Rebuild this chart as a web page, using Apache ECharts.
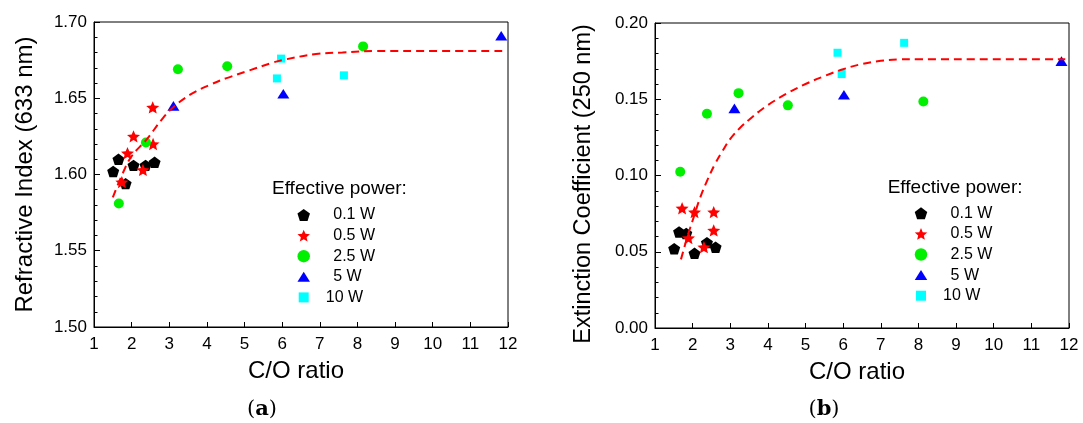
<!DOCTYPE html>
<html>
<head>
<meta charset="utf-8">
<script src="https://cdn.jsdelivr.net/npm/echarts@6/dist/echarts.min.js"></script>
<style>
  html, body { margin: 0; padding: 0; background: #fff; }
  #chart { width: 1083px; height: 423px; }
</style>
</head>
<body>
<div id="chart"></div>
<script>
// Effective power levels (legend entries)
const powerLevels = ['0.1 W', '0.5 W', '2.5 W', '5 W', '10 W'];

// Axis ranges and tick steps
const xRange = [1, 12];
const xStep = 1;
const nRange = [1.50, 1.70];
const nStep = 0.05;
const kRange = [0.00, 0.20];
const kStep = 0.05;

// (a) Refractive index at 633 nm vs C/O ratio  [C/O, n]
const n_01W = [[1.51, 1.602], [1.65, 1.610], [1.84, 1.594], [2.05, 1.606], [2.37, 1.606], [2.61, 1.608]];
const n_05W = [[1.74, 1.595], [1.89, 1.614], [2.05, 1.625], [2.30, 1.603], [2.57, 1.620], [2.56, 1.644]];
const n_25W = [[1.66, 1.581], [2.38, 1.621], [3.23, 1.669], [4.54, 1.671], [8.15, 1.684]];
const n_5W  = [[3.11, 1.645], [6.03, 1.653], [11.82, 1.691]];
const n_10W = [[5.97, 1.676], [5.86, 1.663], [7.64, 1.665]];
// dashed trend curve for (a)
const fitN = [[1.50, 1.585], [1.75, 1.600], [2.00, 1.612], [2.40, 1.623], [2.80, 1.636], [3.10, 1.644],
              [3.60, 1.653], [4.10, 1.659], [4.50, 1.663], [5.10, 1.668], [5.70, 1.673], [6.00, 1.675],
              [6.90, 1.679], [7.60, 1.680], [8.50, 1.681], [10.0, 1.681], [11.9, 1.681]];

// (b) Extinction coefficient at 250 nm vs C/O ratio  [C/O, k]
const k_01W = [[1.51, 0.052], [1.64, 0.063], [1.83, 0.062], [2.05, 0.049], [2.38, 0.056], [2.61, 0.053]];
const k_05W = [[1.72, 0.0785], [2.05, 0.076], [2.56, 0.076], [2.56, 0.064], [1.89, 0.059], [2.30, 0.053]];
const k_25W = [[1.67, 0.1025], [2.38, 0.1405], [3.22, 0.154], [4.53, 0.146], [8.13, 0.1485]];
const k_5W  = [[3.11, 0.144], [6.02, 0.153], [11.80, 0.175]];
const k_10W = [[5.85, 0.1805], [5.96, 0.1665], [7.62, 0.187]];
// dashed trend curve for (b)
const fitK = [[1.69, 0.045], [1.85, 0.059], [2.00, 0.0705], [2.20, 0.0855], [2.40, 0.0975], [2.60, 0.1078],
              [2.80, 0.1163], [3.00, 0.1240], [3.25, 0.1310], [3.50, 0.1366], [3.75, 0.1417], [4.00, 0.1462],
              [4.50, 0.1537], [5.00, 0.1600], [5.50, 0.1652], [6.00, 0.1697], [6.50, 0.1731], [7.00, 0.1752],
              [7.50, 0.1761], [8.00, 0.1763], [10.0, 0.1763], [11.9, 0.1763]];

const FONT = 'Liberation Sans';
const SERIF = 'DejaVu Serif';

const SYM = {
  pentagon: 'path://M0,-100L95.1,-30.9L58.8,80.9L-58.8,80.9L-95.1,-30.9Z',
  star: 'path://M0,-100L26.4,-36.4L95.1,-30.9L42.8,13.9L58.8,80.9L0,45L-58.8,80.9L-42.8,13.9L-95.1,-30.9L-26.4,-36.4Z',
  triangle: 'path://M50,0L100,80L0,80Z',
  squareIcon: 'path://M-1,-1M0,0L8,0L8,8L0,8ZM9,9'
};

const styles = [
  { symbol: SYM.pentagon, size: 12, color: '#000000', icon: SYM.pentagon },
  { symbol: SYM.star, size: 13, color: '#ff0000', icon: SYM.star },
  { symbol: 'circle', size: 10, color: '#00f000', icon: 'circle' },
  { symbol: SYM.triangle, size: 12, color: '#0000ff', icon: SYM.triangle },
  { symbol: 'rect', size: 8, color: '#00ffff', icon: SYM.squareIcon }
];

const nSets = [n_01W, n_05W, n_25W, n_5W, n_10W];
const kSets = [k_01W, k_05W, k_25W, k_5W, k_10W];

function scatterSeries(sets, gi) {
  return sets.map((data, i) => ({
    type: 'scatter',
    name: powerLevels[i],
    xAxisIndex: gi,
    yAxisIndex: gi,
    data: data,
    symbol: styles[i].symbol,
    symbolSize: styles[i].size,
    symbolKeepAspect: true,
    itemStyle: { color: styles[i].color, opacity: 1 },
    emphasis: { disabled: true },
    z: 3
  }));
}

function fitSeries(data, gi) {
  return {
    type: 'line',
    name: 'fit',
    xAxisIndex: gi,
    yAxisIndex: gi,
    data: data,
    smooth: 0.4,
    symbol: 'none',
    lineStyle: { color: '#ff0000', width: 2, type: [8, 5] },
    emphasis: { disabled: true },
    silent: true,
    z: 4
  };
}

const tickStyle = { color: '#000', width: 1 };

function xAxisFor(gi) {
  return {
    gridIndex: gi,
    type: 'value',
    min: xRange[0], max: xRange[1], interval: xStep,
    name: 'C/O ratio',
    nameLocation: 'middle',
    nameGap: 32.5,
    nameTextStyle: { fontFamily: FONT, fontSize: 24, lineHeight: 24, color: '#000', padding: [0, 10, 0, 0] },
    axisLine: { show: true, onZero: false, lineStyle: tickStyle },
    axisTick: { show: true, inside: true, length: 5, lineStyle: tickStyle },
    axisLabel: { fontFamily: FONT, fontSize: 17, color: '#000', margin: 8.5 },
    splitLine: { show: false }
  };
}

function yAxisFor(gi, range, step, name, gap, size, pad) {
  return {
    gridIndex: gi,
    type: 'value',
    min: range[0], max: range[1], interval: step,
    name: name,
    nameLocation: 'middle',
    nameGap: gap,
    nameTextStyle: { fontFamily: FONT, fontSize: size, lineHeight: size, color: '#000', padding: pad },
    axisLine: { show: true, onZero: false, lineStyle: tickStyle },
    axisTick: { show: true, inside: true, length: 6, lineStyle: tickStyle },
    minorTick: { show: true, splitNumber: 5, length: 3.5, lineStyle: tickStyle },
    axisLabel: { fontFamily: FONT, fontSize: 17, color: '#000', margin: 7, formatter: v => v.toFixed(2) },
    splitLine: { show: false }
  };
}

function legendFor(left, top) {
  return {
    orient: 'vertical',
    left: left,
    top: top,
    padding: 0,
    itemWidth: 12.5,
    itemHeight: 12.5,
    itemGap: 4.6,
    selectedMode: false,
    symbolKeepAspect: true,
    data: powerLevels.map((n, i) => ({ name: n, icon: styles[i].icon })),
    formatter: n => (n === '10 W' ? '{w|' : '{v|') + n + '}',
    textStyle: {
      fontFamily: FONT, fontSize: 16, color: '#000', lineHeight: 14,
      rich: {
        v: { fontFamily: FONT, fontSize: 16, lineHeight: 14, color: '#000', padding: [0, 0, 0, 18.3] },
        w: { fontFamily: FONT, fontSize: 16, lineHeight: 14, color: '#000', padding: [0, 0, 0, 10.8] }
      }
    }
  };
}

function panelTag(letter, x) {
  return {
    type: 'text',
    x: x, y: 410,
    silent: true,
    style: {
      text: '{p|(}{b|' + letter + '}{p|)}',
      align: 'center',
      verticalAlign: 'middle',
      fill: '#000',
      rich: {
        p: { fontFamily: SERIF, fontSize: 21, fill: '#000' },
        b: { fontFamily: SERIF, fontSize: 21, fontWeight: 'bold', fill: '#000' }
      }
    }
  };
}

function legendTitle(x, y) {
  return {
    type: 'text',
    x: x, y: y,
    silent: true,
    style: { text: 'Effective power:', fontFamily: FONT, fontSize: 19, fill: '#000', align: 'left', verticalAlign: 'middle' }
  };
}

const chart = echarts.init(document.getElementById('chart'), null, { renderer: 'canvas' });

chart.setOption({
  animation: false,
  backgroundColor: '#ffffff',
  textStyle: { fontFamily: FONT },
  grid: [
    { left: 94, top: 22, width: 414, height: 305, show: true, borderColor: '#000', borderWidth: 1, backgroundColor: 'transparent' },
    { left: 655, top: 23, width: 414, height: 305, show: true, borderColor: '#000', borderWidth: 1, backgroundColor: 'transparent' }
  ],
  xAxis: [xAxisFor(0), xAxisFor(1)],
  yAxis: [
    yAxisFor(0, nRange, nStep, 'Refractive Index (633 nm)', 57, 24, [0, 0, 0, 0]),
    yAxisFor(1, kRange, kStep, 'Extinction Coefficient (250 nm)', 60, 23.5, [0, 17, 0, 0])
  ],
  legend: [legendFor(297.45, 207), legendFor(914.75, 205.3)],
  graphic: [
    legendTitle(272, 188.5),
    legendTitle(887.7, 188),
    panelTag('a', 262),
    panelTag('b', 824)
  ],
  series: [
    ...scatterSeries(nSets, 0),
    ...scatterSeries(kSets, 1),
    fitSeries(fitN, 0),
    fitSeries(fitK, 1)
  ]
});
</script>
</body>
</html>
